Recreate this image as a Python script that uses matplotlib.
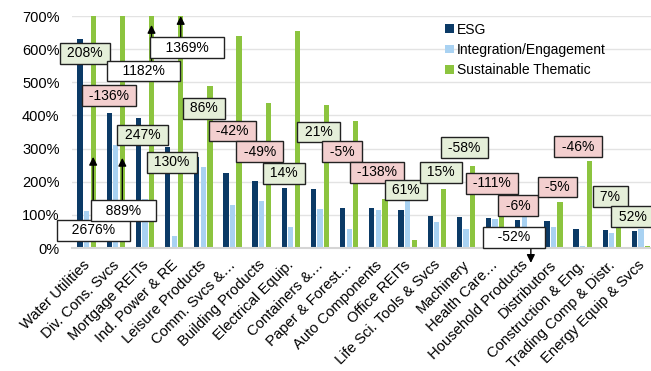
import matplotlib
matplotlib.use("Agg")
import matplotlib.pyplot as plt
import numpy as np

plt.rcParams['font.family'] = ['Liberation Sans', 'DejaVu Sans']

categories = [
    "Water Utilities", "Div. Cons. Svcs", "Mortgage REITs", "Ind. Power & RE",
    "Leisure Products", "Comm. Svcs &\u2026", "Building Products", "Electrical Equip.",
    "Containers &\u2026", "Paper & Forest\u2026", "Auto Components", "Office REITs",
    "Life Sci. Tools & Svcs", "Machinery", "Health Care\u2026", "Household Products",
    "Distributors", "Construction & Eng.", "Trading Comp & Distr.", "Energy Equip & Svcs",
]

esg = [630, 408, 392, 305, 276, 227, 201, 180, 177, 121,
       120, 116, 97, 93, 91, 84, 81, 56, 54, 52]
integration = [113, 310, 149, 37, 245, 131, 143, 64, 119, 56,
               114, 145, 79, 56, 87, 97, 64, 6, 46, 58]
thematic = [2676, 889, 1182, 1369, 489, 641, 438, 654, 431, 384,
            148, 24, 178, 248, 105, -52, 138, 262, 90, 6]

# change labels shown above each group and their box colour
change_labels = ["208%", "-136%", "247%", "130%", "86%", "-42%", "-49%", "14%",
                 "21%", "-5%", "-138%", "61%", "15%", "-58%", "-111%", "-6%",
                 "-5%", "-46%", "7%", "52%"]
change_kind = ["g", "r", "g", "g", "g", "r", "r", "g", "g", "r",
               "r", "g", "g", "g", "r", "r", "r", "r", "g", "g"]

# groups whose thematic value runs off the axis
offscale_groups = [0, 1, 2, 3, 15]
offscale_labels = ["2676%", "889%", "1182%", "1369%", "-52%"]

ESG_C = "#0B3A66"
INT_C = "#A9D2F2"
THM_C = "#8CC43F"
BOX_FILL = {"g": "#E5EFD9", "r": "#F3CFCF"}

fig = plt.figure(figsize=(6.51, 3.71), dpi=100)
ax = fig.add_axes([72 / 651, 1 - 248 / 371, 583.6 / 651, 232 / 371])

x = np.arange(len(categories))
w = 0.18
off = 0.225
ax.bar(x - off, esg, w, color=ESG_C, label="ESG", zorder=2)
ax.bar(x, integration, w, color=INT_C, label="Integration/Engagement", zorder=2)
ax.bar(x + off, thematic, w, color=THM_C, label="Sustainable Thematic", zorder=2)

ax.set_xlim(-0.5, len(categories) - 0.5)
ax.set_ylim(0, 700)
ax.set_yticks(range(0, 701, 100))
ax.set_yticklabels([f"{v}%" for v in range(0, 701, 100)], fontsize=10.5)
ax.yaxis.grid(True, color="#E3E3E3", lw=1, zorder=0)
ax.set_axisbelow(True)
for s in ["top", "right", "left"]:
    ax.spines[s].set_visible(False)
ax.spines["bottom"].set_color("#D5D5D5")
ax.spines["bottom"].set_linewidth(1.5)
ax.tick_params(axis="y", length=0, pad=9)
ax.tick_params(axis="x", length=0, pad=2)
ax.set_xticks(x)
ax.set_xticklabels(categories, rotation=45, ha="right", va="center",
                   rotation_mode="anchor", fontsize=10.6)
for lbl in ax.get_xticklabels():
    lbl.set_transform(lbl.get_transform() +
                      matplotlib.transforms.ScaledTranslation(1 / 100, -12 / 100, fig.dpi_scale_trans))

# coloured change boxes: (x, y) in data units
change_pos = [(-0.05, 588), (0.77, 459), (1.92, 341), (2.93, 259), (4.02, 422),
              (5.0, 353), (5.94, 290), (6.77, 226), (7.95, 350), (8.75, 290),
              (9.95, 229), (10.95, 175), (12.15, 229), (12.95, 302), (13.89, 196),
              (14.78, 127), (16.14, 184), (16.84, 305), (17.95, 154), (18.72, 94)]
for (px, py), txt, k in zip(change_pos, change_labels, change_kind):
    ax.text(px, py, f" {txt} ", ha="center", va="center", fontsize=10, zorder=5,
            bbox=dict(boxstyle="square,pad=0.25", fc=BOX_FILL[k], ec="#222222", lw=1))

# off-scale value boxes and arrows pointing to where the bar continues
offscale_box = [(0.24, 54), (1.27, 112), (1.95, 534), (3.44, 604), (14.65, 33)]
arrow_tail = [81, 142, 564, 634, 6]
arrow_tip = [275, 272, 673, 700, -45]
for g, txt, (bx, by), t0, t1 in zip(offscale_groups, offscale_labels,
                                     offscale_box, arrow_tail, arrow_tip):
    ax.annotate("", xy=(g + off, t1), xytext=(g + off, t0),
                arrowprops=dict(arrowstyle="-|>", color="black", lw=1,
                                mutation_scale=12, shrinkA=0, shrinkB=0),
                annotation_clip=False, zorder=6)
    ax.text(bx, by, f"   {txt}   ", ha="center", va="center", fontsize=10, zorder=7,
            bbox=dict(boxstyle="square,pad=0.25", fc="white", ec="#222222", lw=1))

leg = ax.legend(loc="upper left", bbox_to_anchor=(0.63, 0.995), frameon=False,
                fontsize=10, handlelength=0.6, handleheight=0.6,
                handletextpad=0.25, labelspacing=0.45, borderaxespad=0)

fig.savefig("out.png", dpi=100)
